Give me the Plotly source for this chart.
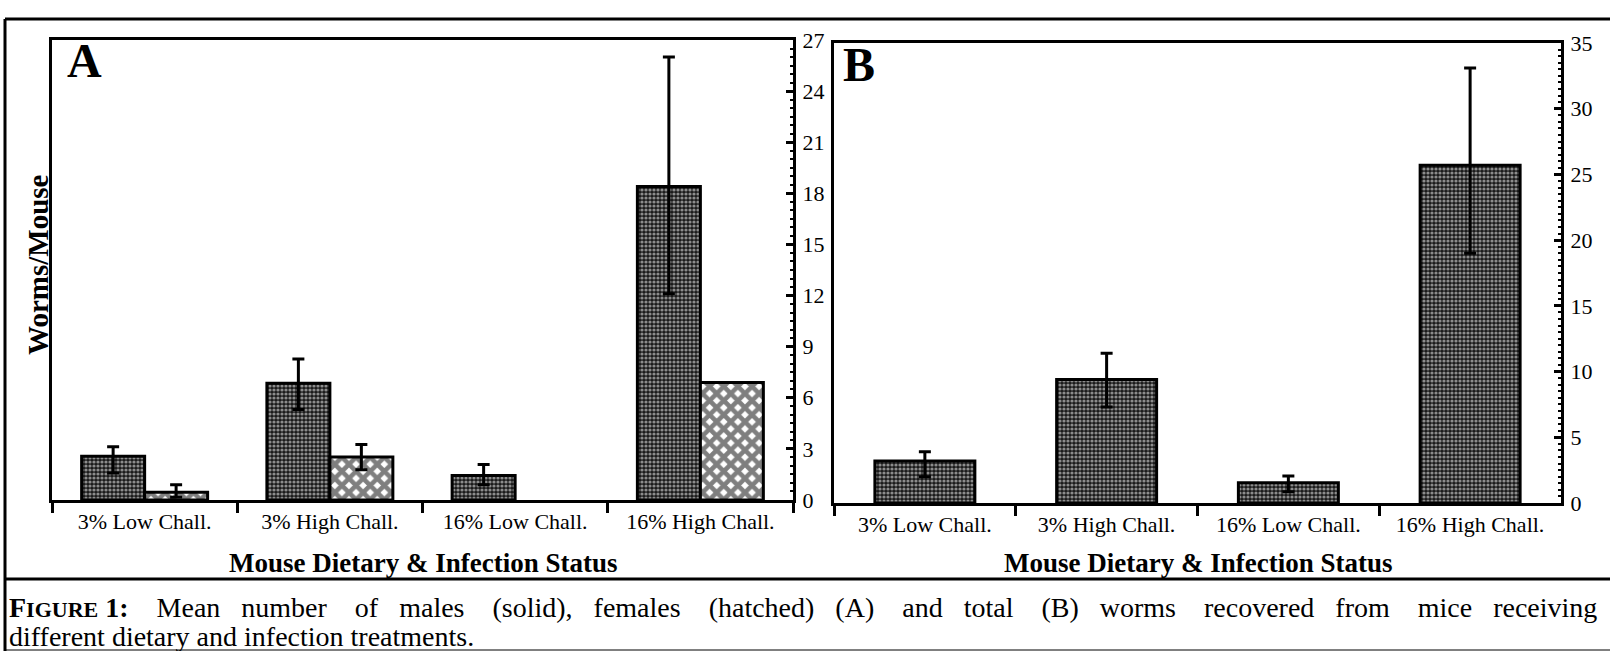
import plotly.graph_objects as go

W, H = 1610, 651

categories = ["3% Low Chall.", "3% High Chall.", "16% Low Chall.", "16% High Chall."]

# Panel A: males (solid) and females (hatched)
male = [2.57, 6.85, 1.44, 18.4]
male_err_plus = [0.56, 1.42, 0.64, 7.6]
male_err_minus = [0.99, 1.54, 0.55, 6.3]

female_cats_err = ["3% Low Chall.", "3% High Chall."]
female_err_vals = [0.46, 2.53]
female_err_plus = [0.43, 0.73]
female_err_minus = [0.30, 0.75]

female_cats_noerr = ["16% High Chall."]
female_noerr_vals = [6.9]

# Panel B: total worms
total = [3.2, 9.4, 1.55, 25.7]
total_err_plus = [0.7, 2.0, 0.5, 7.4]
total_err_minus = [1.2, 2.1, 0.7, 6.7]

yA_ticks = [0, 3, 6, 9, 12, 15, 18, 21, 24, 27]
yB_ticks = [0, 5, 10, 15, 20, 25, 30, 35]

FONT = "Liberation Serif"

def px_x(v):
    return v / W

def px_y(v):
    return 1 - v / H

male_pattern = dict(shape=".", fgcolor="white", bgcolor="#1a1a1a", size=4, solidity=0.5)
female_pattern = dict(shape="x", fgcolor="black", bgcolor="white", size=10, solidity=0.7)
line = dict(color="black", width=3)

fig = go.Figure()

fig.add_trace(go.Bar(
    x=categories, y=male, xaxis="x", yaxis="y", offsetgroup="m",
    marker=dict(color="#1a1a1a", pattern=male_pattern, line=line),
    error_y=dict(type="data", symmetric=False, array=male_err_plus,
                 arrayminus=male_err_minus, color="black", thickness=3, width=6),
    showlegend=False,
))
fig.add_trace(go.Bar(
    x=female_cats_err, y=female_err_vals, xaxis="x", yaxis="y", offsetgroup="f",
    marker=dict(color="white", pattern=female_pattern, line=line),
    error_y=dict(type="data", symmetric=False, array=female_err_plus,
                 arrayminus=female_err_minus, color="black", thickness=3, width=6),
    showlegend=False,
))
fig.add_trace(go.Bar(
    x=female_cats_noerr, y=female_noerr_vals, xaxis="x", yaxis="y", offsetgroup="f",
    marker=dict(color="white", pattern=female_pattern, line=line),
    showlegend=False,
))
fig.add_trace(go.Bar(
    x=categories, y=total, xaxis="x2", yaxis="y2", width=0.55,
    marker=dict(color="#1a1a1a", pattern=male_pattern, line=line),
    error_y=dict(type="data", symmetric=False, array=total_err_plus,
                 arrayminus=total_err_minus, color="black", thickness=3, width=6),
    showlegend=False,
))

xcommon = dict(
    type="category", categoryorder="array", categoryarray=categories,
    showline=True, linecolor="black", linewidth=3, mirror=True,
    ticks="outside", tickson="boundaries", ticklen=10, tickwidth=3, tickcolor="black",
    tickfont=dict(family=FONT, size=22, color="black"),
    showgrid=False, zeroline=False, fixedrange=True, automargin=False,
)
ycommon = dict(
    side="right", showline=True, linecolor="black", linewidth=3, mirror=True,
    ticks="inside", ticklen=7, tickwidth=3, tickcolor="black",
    tickfont=dict(family=FONT, size=22, color="black"),
    ticklabelstandoff=2, automargin=False,
    showgrid=False, zeroline=False, fixedrange=True,
    minor=dict(dtick=0.5, ticks="inside", ticklen=3, tickwidth=2, tickcolor="black"),
)

fig.update_layout(
    width=W, height=H, autosize=False,
    margin=dict(l=0, r=0, t=0, b=0, pad=0, autoexpand=False),
    paper_bgcolor="white", plot_bgcolor="white",
    barmode="group", bargap=0.32, bargroupgap=0,
    xaxis=dict(domain=[px_x(52), px_x(793)], anchor="y", **xcommon),
    yaxis=dict(domain=[px_y(500), px_y(40)], anchor="x", range=[0, 27],
               tickvals=yA_ticks, **ycommon),
    xaxis2=dict(domain=[px_x(834), px_x(1561)], anchor="y2", **xcommon),
    yaxis2=dict(domain=[px_y(503), px_y(43)], anchor="x2", range=[0, 35],
                tickvals=yB_ticks, **ycommon),
)

ann = []
ann.append(dict(text="<b>A</b>", x=px_x(65), y=px_y(60), xref="paper", yref="paper",
                xanchor="left", yanchor="middle", showarrow=False,
                font=dict(family=FONT, size=48, color="black")))
ann.append(dict(text="<b>B</b>", x=px_x(841), y=px_y(65), xref="paper", yref="paper",
                xanchor="left", yanchor="middle", showarrow=False,
                font=dict(family=FONT, size=48, color="black")))
ann.append(dict(text="<b>Worms/Mouse</b>", x=px_x(38), y=px_y(265), xref="paper", yref="paper",
                xanchor="center", yanchor="middle", textangle=-90, showarrow=False,
                font=dict(family=FONT, size=29, color="black")))
for cx in [(52 + 793) / 2, (834 + 1561) / 2]:
    ann.append(dict(text="<b>Mouse Dietary &amp; Infection Status</b>", x=px_x(cx), y=px_y(563),
                    xref="paper", yref="paper", xanchor="center", yanchor="middle", showarrow=False,
                    font=dict(family=FONT, size=27, color="black")))

cap1_words = ["<b>F<span style='font-size:22px'>IGURE</span> 1:</b>", "Mean", "number", "of", "males",
              "(solid),", "females", "(hatched)", "(A)", "and", "total", "(B)", "worms",
              "recovered", "from", "mice", "receiving"]
gaps = []
for i in range(len(cap1_words) - 1):
    gaps.append(" " + "\u00a0" * (3 if i % 2 == 0 else 2))
cap1 = cap1_words[0]
for g, w in zip(gaps, cap1_words[1:]):
    cap1 += g + w
cap2 = "different dietary and infection treatments."
ann.append(dict(text=cap1, x=px_x(7), y=px_y(607), xref="paper", yref="paper",
                xanchor="left", yanchor="middle", showarrow=False,
                font=dict(family=FONT, size=28, color="black")))
ann.append(dict(text=cap2, x=px_x(7), y=px_y(636), xref="paper", yref="paper",
                xanchor="left", yanchor="middle", showarrow=False,
                font=dict(family=FONT, size=28, color="black")))
fig.update_layout(annotations=ann)

shapes = []
frame = dict(color="black", width=3)
shapes.append(dict(type="line", xref="paper", yref="paper", x0=px_x(5), x1=1, y0=px_y(19), y1=px_y(19), line=frame))
shapes.append(dict(type="line", xref="paper", yref="paper", x0=px_x(5), x1=px_x(5), y0=px_y(19), y1=0, line=frame))
shapes.append(dict(type="line", xref="paper", yref="paper", x0=px_x(5), x1=1, y0=px_y(579), y1=px_y(579), line=frame))
shapes.append(dict(type="line", xref="paper", yref="paper", x0=px_x(5), x1=1, y0=px_y(650), y1=px_y(650), line=dict(color="black", width=1)))
fig.update_layout(shapes=shapes)

fig.write_html("out.html", config={"displayModeBar": False},
               post_script="document.body.style.margin='0';")
